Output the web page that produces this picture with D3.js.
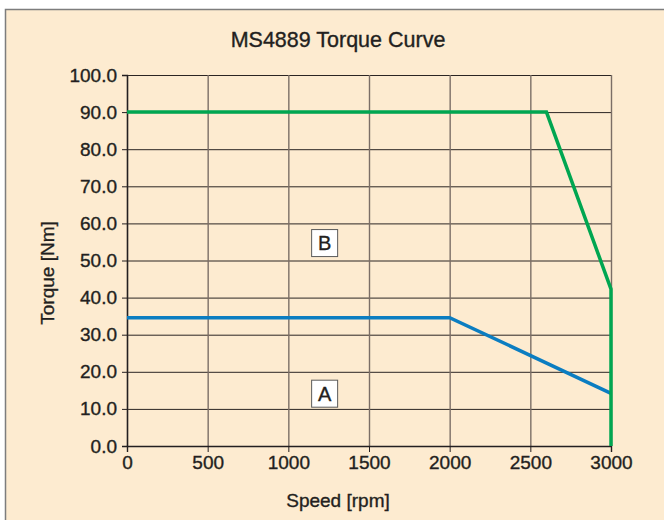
<!DOCTYPE html>
<html lang="en">
<head>
<meta charset="UTF-8">
<script src="https://d3js.org/d3.v7.min.js"></script>
<style>
  body { margin: 0; background: #fff; }
  text { font-family: "Liberation Sans", Arial, sans-serif; fill: #231f20;
         stroke: #231f20; stroke-width: 0.35px; }
</style>
</head>
<body>
<div id="chart"></div>
<script>
// data
const speedTicks = [0, 500, 1000, 1500, 2000, 2500, 3000];
const torqueTicks = [0, 10, 20, 30, 40, 50, 60, 70, 80, 90, 100];
const curveA = [[0, 34.6], [2000, 34.6], [3000, 14.2]];
const curveB = [[0, 90], [2600, 90], [3000, 42.3], [3000, 0]];
const boxLabels = [["A", 1225, 14.1], ["B", 1225, 54.7]];

const W = 664, H = 520;
const margin = { top: 75, right: 53, bottom: 74, left: 127 },
    width = W - margin.left - margin.right,
    height = H - margin.top - margin.bottom;

const root = d3.select("#chart").append("svg")
    .attr("width", W).attr("height", H);

// panel
root.append("rect")
    .attr("x", 5.5).attr("y", 9.5)
    .attr("width", 700).attr("height", 600)
    .attr("fill", "#fdebd0")
    .attr("stroke", "#7d7d7d")
    .attr("stroke-width", 1.5);

root.append("text")
    .attr("x", 338).attr("y", 47)
    .attr("text-anchor", "middle")
    .attr("font-size", 21.5)
    .text("MS4889 Torque Curve");

const svg = root.append("g")
    .attr("transform", `translate(${margin.left},${margin.top})`);

const x = d3.scaleLinear().domain([0, 3000]).range([0, width]);
const y = d3.scaleLinear().domain([0, 100]).range([height, 0]);

// grid
svg.append("g").selectAll("line").data(torqueTicks).join("line")
    .attr("x1", 0).attr("x2", width)
    .attr("y1", d => y(d) + 0.5).attr("y2", d => y(d) + 0.5)
    .attr("stroke", "#2b2523").attr("stroke-width", 1);
svg.append("g").selectAll("line").data(speedTicks).join("line")
    .attr("y1", 0).attr("y2", height)
    .attr("x1", d => x(d) + 0.5).attr("x2", d => x(d) + 0.5)
    .attr("stroke", "#7b6e66").attr("stroke-width", 1.4);

// axes
const yAxis = svg.append("g")
    .call(d3.axisLeft(y).tickValues(torqueTicks).tickFormat(d3.format(".1f")).tickSize(5).tickPadding(5));
const xAxis = svg.append("g")
    .attr("transform", `translate(0,${height})`)
    .call(d3.axisBottom(x).tickValues(speedTicks).tickFormat(d3.format("d")).tickSize(6).tickPadding(4));
[yAxis, xAxis].forEach(a => {
    a.attr("font-size", null).attr("font-family", null);
    a.select(".domain").attr("stroke", "#231f20").attr("stroke-width", 1.4);
    a.selectAll(".tick line").attr("stroke", "#231f20");
    a.selectAll("text").attr("font-size", 19).attr("fill", "#231f20");
});

// curves
const line = d3.line().x(d => x(d[0])).y(d => y(d[1]));
svg.append("path").datum(curveA)
    .attr("fill", "none").attr("stroke", "#0b7dc1")
    .attr("stroke-width", 3.5).attr("d", line);
svg.append("path").datum(curveB)
    .attr("fill", "none").attr("stroke", "#00a651")
    .attr("stroke-width", 3.5).attr("d", line);

// boxed region labels
const lab = svg.append("g").selectAll("g").data(boxLabels).join("g")
    .attr("transform", d => `translate(${x(d[1])},${y(d[2])})`);
lab.append("rect")
    .attr("x", -13).attr("y", -13.5).attr("width", 26).attr("height", 27)
    .attr("fill", "#fff").attr("stroke", "#5a5a5a").attr("stroke-width", 1);
lab.append("text")
    .attr("text-anchor", "middle").attr("dy", 7)
    .attr("font-size", 20)
    .text(d => d[0]);

// axis titles
root.append("text")
    .attr("transform", "translate(54,273) rotate(-90)")
    .attr("text-anchor", "middle")
    .attr("font-size", 19)
    .text("Torque [Nm]");
root.append("text")
    .attr("x", 338).attr("y", 507)
    .attr("text-anchor", "middle")
    .attr("font-size", 19)
    .text("Speed [rpm]");
</script>
</body>
</html>
